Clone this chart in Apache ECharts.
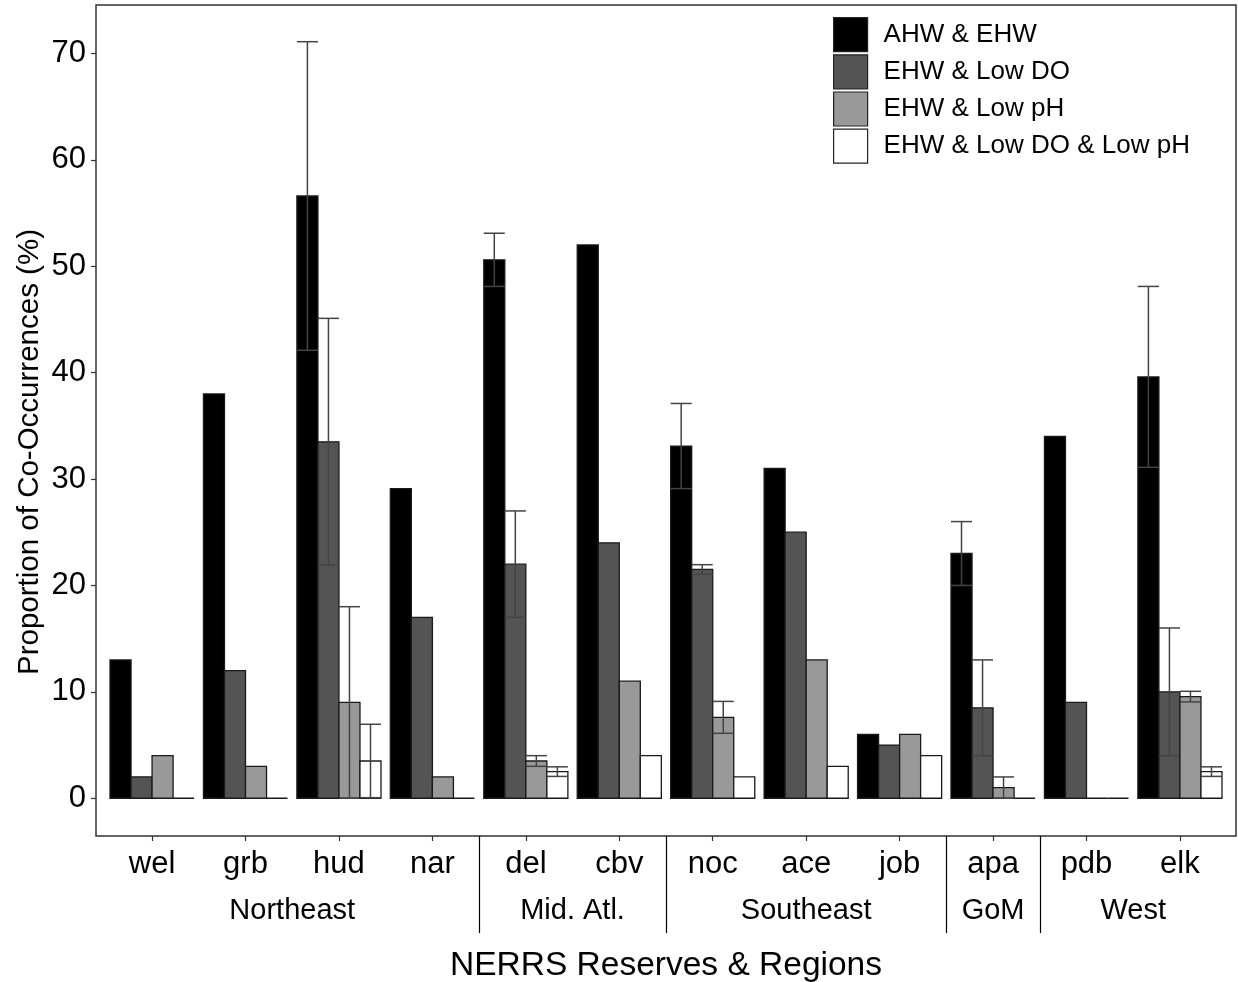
<!DOCTYPE html>
<html>
<head>
<meta charset="utf-8">
<script src="https://cdn.jsdelivr.net/npm/echarts@6.0.0/dist/echarts.min.js"></script>
<style>
html,body{margin:0;padding:0;background:#fff;}
#chart{width:1238px;height:982px;}
</style>
</head>
<body>
<div id="chart"></div>
<script>
// ---- data ----
const reserves = ['wel','grb','hud','nar','del','cbv','noc','ace','job','apa','pdb','elk'];
const regions = ['Northeast','Mid. Atl.','Southeast','GoM','West'];
const regionSizes = [4, 2, 3, 1, 2];
const seriesNames = ['AHW & EHW','EHW & Low DO','EHW & Low pH','EHW & Low DO & Low pH'];

const ahwEhw      = [13, 38, 56.6, 29.1, 50.6, 52, 33.1, 31, 6, 23, 34, 39.6];
const ahwEhwErr   = [null, null, 14.5, null, 2.5, null, 4, null, null, 3, null, 8.5];
const ehwDo       = [2, 12, 33.5, 17, 22, 24, 21.5, 25, 5, 8.5, 9, 10];
const ehwDoErr    = [null, null, 11.6, null, 5, null, 0.45, null, null, 4.5, null, 6];
const ehwPh       = [4, 3, 9, 2, 3.5, 11, 7.6, 13, 6, 1, 0, 9.55];
const ehwPhErr    = [null, null, 9, null, 0.5, null, 1.5, null, null, 1, null, 0.5];
const ehwDoPh     = [0, 0, 3.5, 0, 2.5, 4, 2, 3, 4, 0, 0, 2.5];
const ehwDoPhErr  = [null, null, 3.45, null, 0.45, null, null, null, null, null, null, 0.45];

const yTicks = [0, 10, 20, 30, 40, 50, 60, 70];
const xTitle = 'NERRS Reserves & Regions';
const yTitle = 'Proportion of Co-Occurrences (%)';

// ---- derived ----
const values = [ahwEhw, ehwDo, ehwPh, ehwDoPh];
const errors = [ahwEhwErr, ehwDoErr, ehwPhErr, ehwDoPhErr];
const fills = ['#000000', '#545454', '#999999', '#ffffff'];
const xIdx = reserves.map((_, i) => i);
const regionCenters = [];
const regionBounds = [];
{
  let start = 0;
  regionSizes.forEach((n, k) => {
    regionCenters.push(start + (n - 1) / 2);
    if (k > 0) regionBounds.push(start - 0.5);
    start += n;
  });
}
const dodge = 0.9, nSer = 4, bw = dodge / nSer;
const FONT = "'Liberation Sans', Arial, sans-serif";

function makeRender(s) {
  const off = -dodge / 2 + bw * s + bw / 2;
  return function (params, api) {
    const x = api.value(0), v = api.value(1), e = api.value(2);
    const a = api.coord([x + off - bw / 2, 0]);
    const b = api.coord([x + off + bw / 2, v]);
    const children = [{
      type: 'rect',
      shape: { x: a[0], y: b[1], width: b[0] - a[0], height: a[1] - b[1] },
      style: { fill: fills[s], stroke: '#1a1a1a', lineWidth: 1.3 }
    }];
    if (e != null && !isNaN(e) && e > 0) {
      const cx = api.coord([x + off, 0])[0];
      const top = api.coord([x + off, v + e])[1];
      const bot = api.coord([x + off, Math.max(v - e, 0)])[1];
      const lineStyle = { stroke: '#444', lineWidth: 1.5 };
      children.push({ type: 'line', shape: { x1: cx, y1: top, x2: cx, y2: bot }, style: lineStyle });
      children.push({ type: 'line', shape: { x1: a[0], y1: top, x2: b[0], y2: top }, style: lineStyle });
      children.push({ type: 'line', shape: { x1: a[0], y1: bot, x2: b[0], y2: bot }, style: lineStyle });
    }
    return { type: 'group', children };
  };
}

const series = seriesNames.map((name, s) => ({
  name,
  type: 'custom',
  xAxisIndex: 0,
  yAxisIndex: 0,
  itemStyle: { color: fills[s], borderColor: '#222', borderWidth: 1.2 },
  renderItem: makeRender(s),
  encode: { x: 0, y: 1 },
  data: xIdx.map(i => [i, values[s][i], errors[s][i] == null ? NaN : errors[s][i]]),
  z: 2 + s
}));

const chart = echarts.init(document.getElementById('chart'), null, { renderer: 'canvas' });
chart.setOption({
  animation: false,
  backgroundColor: '#fff',
  textStyle: { fontFamily: FONT },
  grid: {
    left: 96, top: 5, right: 2, bottom: 146,
    containLabel: false, outerBoundsMode: 'none',
    show: true, borderColor: '#333', borderWidth: 1.5, backgroundColor: 'transparent'
  },
  legend: {
    orient: 'vertical',
    left: 833,
    top: 17,
    padding: 0,
    itemWidth: 34,
    itemHeight: 34,
    itemGap: 2,
    icon: 'rect',
    textStyle: { fontSize: 26, color: '#000', fontFamily: FONT, padding: [4, 0, 0, 11] },
    data: seriesNames.map((n, s) => ({ name: n, icon: 'rect', itemStyle: { color: fills[s], borderColor: '#222', borderWidth: 1.2 } }))
  },
  graphic: [
    {
      type: 'text',
      x: 30,
      y: 452,
      rotation: Math.PI / 2,
      style: {
        text: yTitle,
        fontSize: 29.5,
        fontFamily: FONT,
        fill: '#000',
        align: 'center',
        verticalAlign: 'middle'
      }
    }
  ],
  xAxis: [
    {
      type: 'value',
      min: -0.6,
      max: 11.6,
      position: 'bottom',
      axisLine: { show: false, onZero: false },
      splitLine: { show: false },
      axisTick: { show: true, customValues: xIdx, length: 5, lineStyle: { color: '#333', width: 1.2 } },
      axisLabel: {
        customValues: xIdx,
        formatter: v => reserves[Math.round(v)],
        fontSize: 31,
        color: '#000',
        margin: 13,
        fontFamily: FONT
      },
      name: xTitle,
      nameLocation: 'middle',
      nameGap: 113,
      nameTextStyle: { fontSize: 33.5, color: '#000', fontFamily: FONT }
    },
    {
      type: 'value',
      min: -0.6,
      max: 11.6,
      position: 'bottom',
      gridIndex: 0,
      axisLine: { show: false, onZero: false },
      splitLine: { show: false },
      axisTick: { show: true, customValues: regionBounds, length: 97, lineStyle: { color: '#000', width: 1.2 } },
      axisLabel: {
        customValues: regionCenters,
        formatter: v => regions[regionCenters.indexOf(v)],
        fontSize: 29,
        color: '#000',
        margin: 60,
        fontFamily: FONT
      }
    }
  ],
  yAxis: {
    type: 'value',
    min: -3.55,
    max: 74.55,
    position: 'left',
    axisLine: { show: false, onZero: false },
    splitLine: { show: false },
    axisTick: { show: true, customValues: yTicks, length: 5, lineStyle: { color: '#333', width: 1.2 } },
    axisLabel: { customValues: yTicks, fontSize: 31, color: '#000', margin: 10, fontFamily: FONT }
  },
  series
});
</script>
</body>
</html>
